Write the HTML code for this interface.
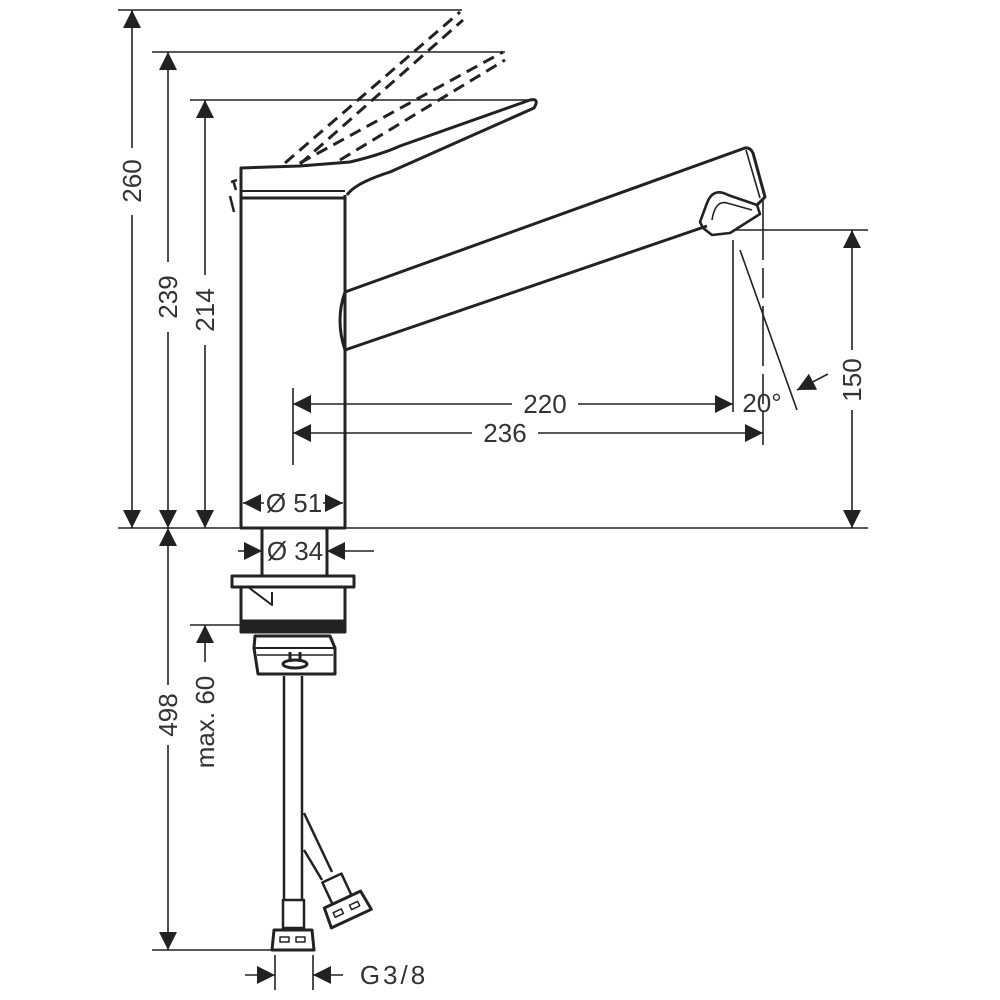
<!DOCTYPE html>
<html><head><meta charset="utf-8"><style>
html,body{margin:0;padding:0;background:#fff}
svg{display:block}
text{font-family:"Liberation Sans",sans-serif;font-size:26px;fill:#333}
</style></head><body>
<svg width="1000" height="1000" viewBox="0 0 1000 1000" xmlns="http://www.w3.org/2000/svg">
<defs>
<marker id="a" viewBox="0 0 10 10" refX="10" refY="5" markerWidth="20" markerHeight="18" markerUnits="userSpaceOnUse" orient="auto-start-reverse"><path d="M0,0 L10,5 L0,10 Z" fill="#222"/></marker>
</defs>
<g stroke="#222" stroke-width="1.6" fill="none">
<line x1="118" y1="10" x2="462" y2="10"/>
<line x1="152" y1="52" x2="505" y2="52"/>
<line x1="190" y1="100" x2="535" y2="100"/>
<line x1="118" y1="528" x2="868" y2="528"/>
<line x1="735" y1="230" x2="868" y2="230"/>
<line x1="152" y1="950" x2="275" y2="950"/>
<line x1="190" y1="625" x2="242" y2="625"/>
<line x1="293" y1="388" x2="293" y2="465"/>
<line x1="733" y1="240" x2="733" y2="412"/>
<line x1="763" y1="200" x2="763" y2="445" stroke-dasharray="60 8 30 8"/>
<line x1="740" y1="250" x2="797" y2="410"/>
<line x1="275" y1="955" x2="275" y2="990"/>
<line x1="313" y1="955" x2="313" y2="990"/>
<line x1="132" y1="10" x2="132" y2="148" marker-start="url(#a)"/>
<line x1="132" y1="215" x2="132" y2="528" marker-end="url(#a)"/>
<line x1="168" y1="52" x2="168" y2="262" marker-start="url(#a)"/>
<line x1="168" y1="332" x2="168" y2="528" marker-end="url(#a)"/>
<line x1="205" y1="100" x2="205" y2="275" marker-start="url(#a)"/>
<line x1="205" y1="345" x2="205" y2="528" marker-end="url(#a)"/>
<line x1="168" y1="528" x2="168" y2="685" marker-start="url(#a)"/>
<line x1="168" y1="745" x2="168" y2="950" marker-end="url(#a)"/>
<line x1="205" y1="625" x2="205" y2="662" marker-start="url(#a)"/>
<line x1="852" y1="230" x2="852" y2="350" marker-start="url(#a)"/>
<line x1="852" y1="410" x2="852" y2="528" marker-end="url(#a)"/>
<line x1="293" y1="404" x2="512" y2="404" marker-start="url(#a)"/>
<line x1="578" y1="404" x2="733" y2="404" marker-end="url(#a)"/>
<line x1="293" y1="433" x2="472" y2="433" marker-start="url(#a)"/>
<line x1="538" y1="433" x2="763" y2="433" marker-end="url(#a)"/>
<line x1="243" y1="503" x2="264" y2="503" marker-start="url(#a)"/>
<line x1="323" y1="503" x2="343" y2="503" marker-end="url(#a)"/>
<line x1="238" y1="551" x2="262" y2="551" marker-end="url(#a)"/>
<line x1="374" y1="551" x2="327" y2="551" marker-end="url(#a)"/>
<line x1="245" y1="975" x2="275" y2="975" marker-end="url(#a)"/>
<line x1="343" y1="975" x2="313" y2="975" marker-end="url(#a)"/>
<line x1="828" y1="374" x2="797" y2="390" marker-end="url(#a)"/>
</g>
<g stroke="#222" stroke-width="3" fill="none" stroke-linejoin="round">
<g stroke-dasharray="12 7" stroke-width="3">
<path d="M285,163 L460,12 M300,164 L463,20"/>
<path d="M300,163 L503,52 M340,160 L505,60"/>
</g>
<path d="M241,195 L241,168 L300,166 L350,162 Q380,155 400,146 L530,100 Q540,98 534,108 L390,172 Q355,183 347,195"/>
<line x1="241" y1="191" x2="345" y2="191" stroke-width="2"/>
<line x1="241" y1="198" x2="345" y2="198"/>
<path d="M237,180 L231,182 M233,180 L236,190 M230,196 L234,212" stroke-width="2.5"/>
<path d="M241,195 L241,528 L345,528 L345,195"/>
<path d="M345,292 L745,148 Q750,147 753,153 L765,197 L757,205"/>
<path d="M345,350 L707,226"/>
<path d="M345,292 Q335,320 345,350"/>
<path d="M746,150 L760,198" stroke-width="1.6"/>
<path d="M700,222 L707,203 Q713,187 728,195 L757,205 L760,214 L730,233 L712,235 L703,228 Z" stroke-width="2.6"/>
<path d="M712,220 Q715,200 727,203 L752,210" stroke-width="1.6"/>
<path d="M262,528 L262,575 M327,528 L327,575"/>
<rect x="232" y="576" width="122" height="11"/>
<path d="M241,587 L241,622 M345,587 L345,622"/>
<path d="M248,587 L272,605 L272,592" stroke-width="2"/>
<rect x="241" y="621" width="104" height="11" fill="#222"/>
<path d="M255,636 L330,636 L335,648 L335,674 L258,674 L254,648 Z"/>
<line x1="254" y1="648" x2="335" y2="648" stroke-width="2"/>
<line x1="257" y1="655" x2="333" y2="655" stroke-width="1.6"/>
<path d="M290,652 L290,662 M300,652 L300,662"/>
<ellipse cx="295" cy="664" rx="12" ry="4"/>
<path d="M284,676 L284,900 M302,676 L302,900" stroke-width="2.5"/>
<path d="M304,813 L332,872 M304,850 L322,880" stroke-width="2.5"/>
<rect x="283" y="900" width="21" height="28" stroke-width="2.5"/>
<path d="M274,930 L312,930 L314,950 L272,950 Z" stroke-width="3"/>
<rect x="280" y="937" width="9" height="5" stroke-width="1.5"/>
<rect x="296" y="937" width="9" height="5" stroke-width="1.5"/>
<g transform="translate(345,905) rotate(-25)">
<rect x="-11" y="-30" width="21" height="24" stroke-width="2.5"/>
<path d="M-20,-6 L20,-6 L22,15 L-22,15 Z" stroke-width="3"/>
<rect x="-14" y="2" width="9" height="5" stroke-width="1.5"/>
<rect x="4" y="2" width="9" height="5" stroke-width="1.5"/>
</g>
</g>
<text x="545" y="413" text-anchor="middle">220</text>
<text x="505" y="442" text-anchor="middle">236</text>
<text x="762" y="412" text-anchor="middle">20°</text>
<text x="294" y="512" text-anchor="middle">Ø 51</text>
<text x="295" y="560" text-anchor="middle">Ø 34</text>
<text x="394" y="984" text-anchor="middle" letter-spacing="3">G3/8</text>
<text transform="translate(141,181) rotate(-90)" text-anchor="middle">260</text>
<text transform="translate(177,297) rotate(-90)" text-anchor="middle">239</text>
<text transform="translate(214,310) rotate(-90)" text-anchor="middle">214</text>
<text transform="translate(177,715) rotate(-90)" text-anchor="middle">498</text>
<text transform="translate(214,722) rotate(-90)" text-anchor="middle">max. 60</text>
<text transform="translate(861,380) rotate(-90)" text-anchor="middle">150</text>
</svg>
</body></html>
